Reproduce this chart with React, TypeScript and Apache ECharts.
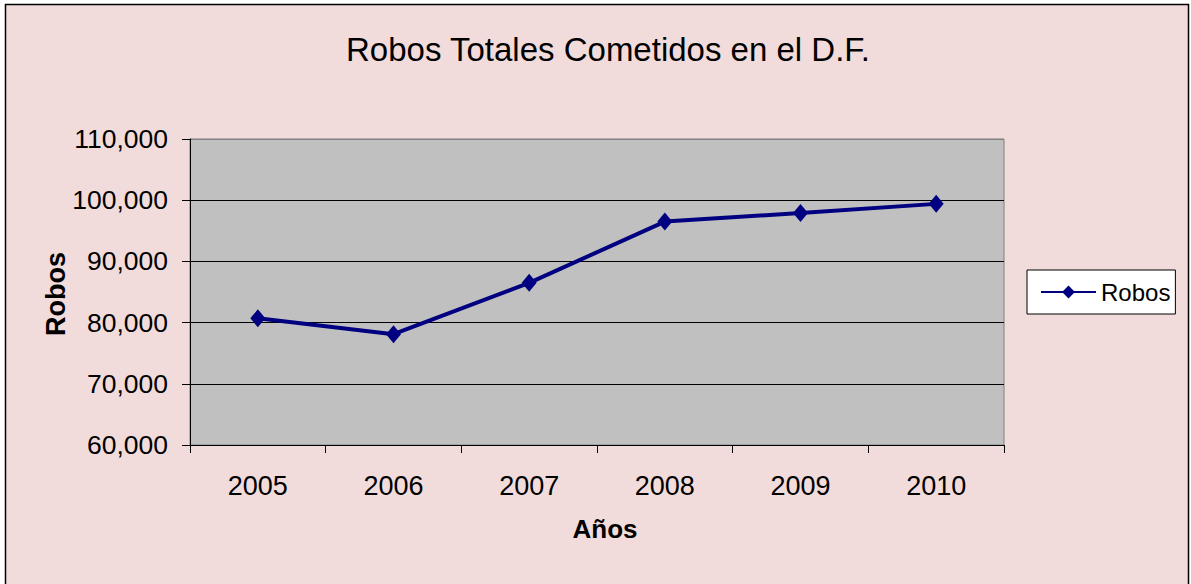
import React, { useEffect, useRef } from "react";
import * as echarts from "echarts";

const title = "Robos Totales Cometidos en el D.F.";
const categories = ["2005", "2006", "2007", "2008", "2009", "2010"];
const robos = [80700, 78100, 86500, 96500, 97900, 99400];
const seriesName = "Robos";
const xAxisTitle = "Años";
const yAxisTitle = "Robos";
const yMin = 60000;
const yMax = 110000;
const yStep = 10000;

const FONT = "'Liberation Sans', Arial, sans-serif";

export default function App() {
  const ref = useRef<HTMLDivElement>(null);
  useEffect(() => {
    if (!ref.current) return;
    const chart = echarts.init(ref.current, undefined, { renderer: "svg" });
    chart.setOption({
      animation: false,
      backgroundColor: "#ffffff",
      textStyle: { fontFamily: FONT, color: "#000" },
      graphic: [
        {
          type: "rect",
          z: -10,
          silent: true,
          shape: { x: 5.5, y: 4.5, width: 1183, height: 600 },
          style: { fill: "#F2DCDB", stroke: "#000", lineWidth: 1.5 },
        },
        {
          type: "text",
          x: 608,
          y: 49,
          style: {
            text: title,
            fontFamily: FONT,
            fontSize: 33,
            fill: "#000",
            textAlign: "center",
            textVerticalAlign: "middle",
          },
        },
        {
          type: "text",
          x: 605,
          y: 529,
          style: {
            text: xAxisTitle,
            fontFamily: FONT,
            fontSize: 26,
            fontWeight: "bold",
            fill: "#000",
            textAlign: "center",
            textVerticalAlign: "middle",
          },
        },
        {
          type: "text",
          x: 56,
          y: 294,
          rotation: Math.PI / 2,
          style: {
            text: yAxisTitle,
            fontFamily: FONT,
            fontSize: 27,
            fontWeight: "bold",
            fill: "#000",
            textAlign: "center",
            textVerticalAlign: "middle",
          },
        },
      ],
      grid: {
        left: 190,
        right: 187,
        top: 139,
        bottom: 139,
        show: true,
        backgroundColor: "#C0C0C0",
        borderColor: "#808080",
        borderWidth: 1,
      },
      legend: {
        left: 1027,
        top: 270,
        orient: "vertical",
        backgroundColor: "#ffffff",
        borderColor: "#000",
        borderWidth: 1,
        padding: [10, 5, 10, 13],
        itemWidth: 55,
        itemHeight: 16,
        itemGap: 0,
        textStyle: { fontFamily: FONT, fontSize: 24, color: "#000", lineHeight: 24 },
        data: [seriesName],
      },
      xAxis: {
        type: "category",
        data: categories,
        boundaryGap: true,
        axisLine: { lineStyle: { color: "#000", width: 1 } },
        axisTick: { show: true, length: 8, lineStyle: { color: "#000" } },
        axisLabel: { color: "#000", fontSize: 27, fontFamily: FONT, margin: 27 },
        splitLine: { show: false },
      },
      yAxis: {
        type: "value",
        min: yMin,
        max: yMax,
        interval: yStep,
        axisLine: { show: true, lineStyle: { color: "#000", width: 1 } },
        axisTick: { show: true, length: 8, lineStyle: { color: "#000" } },
        axisLabel: {
          color: "#000",
          fontSize: 26.5,
          fontFamily: FONT,
          margin: 22,
          formatter: (v: number) => v.toLocaleString("en-US"),
        },
        splitLine: {
          show: true,
          lineStyle: {
            color: ["#000", "#000", "#000", "#000", "#000", "#808080"],
            width: 1,
          },
        },
      },
      series: [
        {
          name: seriesName,
          type: "line",
          data: robos,
          symbol: "diamond",
          symbolSize: [15, 18],
          itemStyle: { color: "#000080" },
          lineStyle: { color: "#000080", width: 4 },
        },
      ],
    });
    return () => chart.dispose();
  }, []);
  return (
    <div
      ref={ref}
      style={{ position: "absolute", left: 0, top: 0, width: 1191, height: 584 }}
    />
  );
}
